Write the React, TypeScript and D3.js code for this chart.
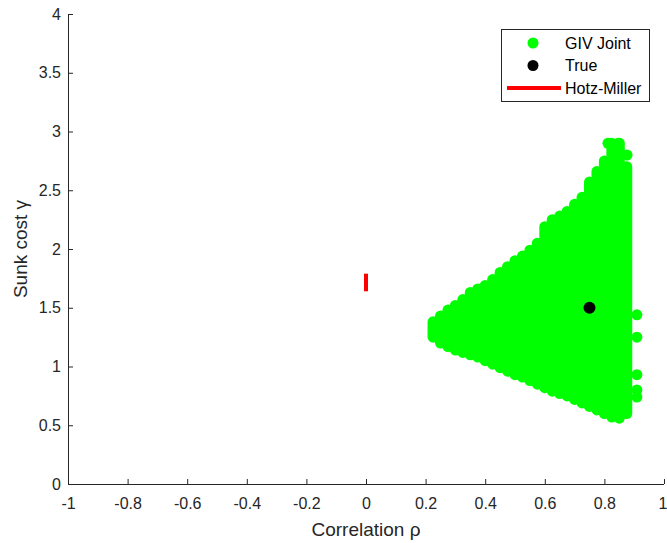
import * as d3 from "d3";
import React, { useRef, useEffect } from "react";

// GIV joint identified set, read column by column (rho, lowest and highest gamma)
const rhoGrid = [
  0.225, 0.25, 0.275, 0.3, 0.325, 0.35, 0.375, 0.4, 0.425, 0.45, 0.475, 0.5,
  0.525, 0.55, 0.575, 0.6, 0.625, 0.65, 0.675, 0.7, 0.725, 0.75, 0.775, 0.8,
  0.825, 0.85, 0.875,
];
const gammaLow = [
  1.25, 1.2, 1.17, 1.14, 1.12, 1.1, 1.08, 1.05, 1.02, 0.99, 0.96, 0.93, 0.91,
  0.88, 0.85, 0.82, 0.79, 0.77, 0.75, 0.72, 0.69, 0.66, 0.63, 0.6, 0.57, 0.56,
  0.6,
];
const gammaHigh = [
  1.38, 1.43, 1.48, 1.52, 1.57, 1.63, 1.66, 1.69, 1.74, 1.8, 1.85, 1.9, 1.94,
  1.99, 2.05, 2.19, 2.25, 2.28, 2.32, 2.38, 2.44, 2.57, 2.66, 2.75, 2.9, 2.9,
  2.7,
];
// single points sticking out of the set
const strayRho = [0.909, 0.909, 0.909, 0.909, 0.909, 0.876, 0.812, 0.846];
const strayGamma = [0.74, 0.8, 0.93, 1.25, 1.44, 2.8, 2.9, 2.9];

const trueRho = 0.75;
const trueGamma = 1.5;

const hotzRho = 0;
const hotzGamma = [1.64, 1.79];

const xTicks = [-1, -0.8, -0.6, -0.4, -0.2, 0, 0.2, 0.4, 0.6, 0.8, 1];
const yTicks = [0, 0.5, 1, 1.5, 2, 2.5, 3, 3.5, 4];
const legendLabels = ["GIV Joint", "True", "Hotz-Miller"];

function App() {
  const ref = useRef(null);

  useEffect(() => {
    var svg = d3.select(ref.current);
    svg.selectAll("*").remove();

    var margin = { top: 14, right: 3, bottom: 59, left: 68 },
      width = 667 - margin.left - margin.right,
      height = 543 - margin.top - margin.bottom;

    var x = d3.scaleLinear().domain([-1, 1]).range([0, width]);
    var y = d3.scaleLinear().domain([0, 4]).range([height, 0]);

    var font = "Arial, 'Liberation Sans', Helvetica, sans-serif";
    var axisColor = "#262626";
    var green = "#00ff00";

    var chart = svg
      .append("g")
      .attr("transform", "translate(" + margin.left + "," + margin.top + ")");

    // identified set
    chart
      .selectAll(".col")
      .data(rhoGrid)
      .enter()
      .append("line")
      .attr("x1", (d) => x(d))
      .attr("x2", (d) => x(d))
      .attr("y1", (d, i) => y(gammaLow[i]))
      .attr("y2", (d, i) => y(gammaHigh[i]))
      .attr("stroke", green)
      .attr("stroke-width", 11)
      .attr("stroke-linecap", "round");

    chart
      .selectAll(".stray")
      .data(strayRho)
      .enter()
      .append("circle")
      .attr("cx", (d) => x(d))
      .attr("cy", (d, i) => y(strayGamma[i]))
      .attr("r", 5.5)
      .attr("fill", green);

    chart
      .append("circle")
      .attr("cx", x(trueRho))
      .attr("cy", y(trueGamma))
      .attr("r", 6)
      .attr("fill", "black");

    chart
      .append("line")
      .attr("x1", x(hotzRho))
      .attr("x2", x(hotzRho))
      .attr("y1", y(hotzGamma[0]))
      .attr("y2", y(hotzGamma[1]))
      .attr("stroke", "red")
      .attr("stroke-width", 4);

    // axes, ticks pointing inward, plain hyphen for negatives
    var xAxis = chart
      .append("g")
      .attr("transform", "translate(0," + height + ")")
      .call(
        d3
          .axisBottom(x)
          .tickValues(xTicks)
          .tickSize(-5)
          .tickPadding(14)
          .tickFormat((d) => String(d))
      );

    var yAxis = chart.append("g").call(
      d3
        .axisLeft(y)
        .tickValues(yTicks)
        .tickSize(-5)
        .tickPadding(7)
        .tickFormat((d) => String(d))
    );

    [xAxis, yAxis].forEach((a) => {
      a.select(".domain").attr("stroke", axisColor).attr("stroke-width", 1);
      a.selectAll(".tick line").attr("stroke", axisColor);
      a.selectAll(".tick text")
        .attr("fill", axisColor)
        .style("font-family", font)
        .style("font-size", "16px");
    });
    // keep the domain as a plain line (no outer ticks)
    xAxis.select(".domain").attr("d", "M0,0.5H" + width);
    yAxis.select(".domain").attr("d", "M0.5,0V" + height);
    // last label sits at the very edge of the figure
    xAxis
      .selectAll(".tick text")
      .filter((d) => d === 1)
      .attr("text-anchor", "end")
      .attr("x", 3);

    chart
      .append("text")
      .attr("x", width / 2)
      .attr("y", height + 52)
      .attr("text-anchor", "middle")
      .attr("fill", axisColor)
      .style("font-family", font)
      .style("font-size", "19px")
      .text("Correlation ρ");

    chart
      .append("text")
      .attr("transform", "rotate(-90)")
      .attr("x", -height / 2)
      .attr("y", -41)
      .attr("text-anchor", "middle")
      .attr("fill", axisColor)
      .style("font-family", font)
      .style("font-size", "19px")
      .text("Sunk cost γ");

    // legend
    var legend = svg.append("g").attr("transform", "translate(501,29)");
    legend
      .append("rect")
      .attr("x", 0.5)
      .attr("y", 0.5)
      .attr("width", 148)
      .attr("height", 72)
      .attr("fill", "white")
      .attr("stroke", axisColor)
      .attr("stroke-width", 1);

    var rows = legend
      .selectAll(".row")
      .data(legendLabels)
      .enter()
      .append("g")
      .attr("transform", (d, i) => "translate(0," + (14 + i * 22.5) + ")");

    rows
      .append("text")
      .attr("x", 64)
      .attr("dy", "0.35em")
      .attr("fill", "black")
      .style("font-family", font)
      .style("font-size", "16px")
      .text((d) => d);

    rows
      .filter((d, i) => i === 0)
      .append("circle")
      .attr("cx", 32)
      .attr("r", 5.5)
      .attr("fill", green);
    rows
      .filter((d, i) => i === 1)
      .append("circle")
      .attr("cx", 32)
      .attr("r", 5.5)
      .attr("fill", "black");
    rows
      .filter((d, i) => i === 2)
      .append("line")
      .attr("x1", 6)
      .attr("x2", 60)
      .attr("stroke", "red")
      .attr("stroke-width", 4);
  }, []);

  return (
    <svg
      ref={ref}
      width={667}
      height={543}
      style={{ position: "absolute", left: 0, top: 0, background: "white" }}
    />
  );
}

export default App;
